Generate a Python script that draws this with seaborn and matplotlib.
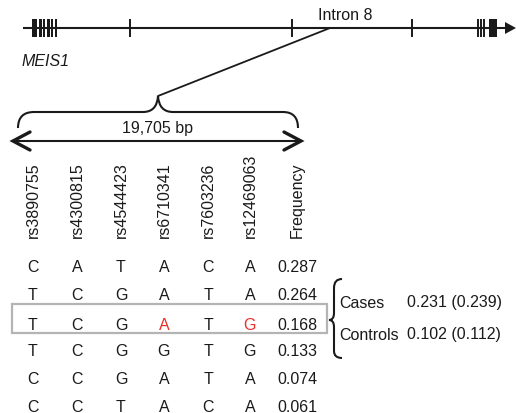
import matplotlib
matplotlib.use("Agg")
import matplotlib.pyplot as plt
from matplotlib.patches import Rectangle, PathPatch
from matplotlib.path import Path
import seaborn as sns

sns.set_style("white")
plt.rcParams['font.family'] = ['Liberation Sans', 'DejaVu Sans']

# ---- data ----
gene_name = "MEIS1"
intron_label = "Intron 8"
span_label = "19,705 bp"
# exon blocks (left, width) along the gene line
exon_left = [31.5, 39, 42.5, 46.5, 50.5, 54.5, 489]
exon_width = [5, 2.5, 2.5, 3.5, 2.5, 2.5, 8]
# thin exon ticks
tick_x = [130, 292, 412, 478, 481, 484]

snp_names = ["rs3890755", "rs4300815", "rs4544423", "rs6710341",
             "rs7603236", "rs12469063"]
freq_header = "Frequency"
haplotypes = [
    ["C", "A", "T", "A", "C", "A"],
    ["T", "C", "G", "A", "T", "A"],
    ["T", "C", "G", "A", "T", "G"],
    ["T", "C", "G", "G", "T", "G"],
    ["C", "C", "G", "A", "T", "A"],
    ["C", "C", "T", "A", "C", "A"],
]
frequencies = ["0.287", "0.264", "0.168", "0.133", "0.074", "0.061"]
highlight_row = 2
highlight_cols = [3, 5]
groups = ["Cases", "Controls"]
group_freqs = ["0.231 (0.239)", "0.102 (0.112)"]

# ---- layout ----
W, H = 516, 413
fig = plt.figure(figsize=(W / 100, H / 100), dpi=100)
ax = fig.add_axes([0, 0, 1, 1])
ax.set_xlim(0, W)
ax.set_ylim(H, 0)
ax.axis('off')

ink = "#1a1a1a"
red = "#e8302a"
fs = 11.5

# gene line
gy = 28
ax.plot([23, 506], [gy, gy], color=ink, lw=1.5, solid_capstyle='butt')
ax.fill([505, 516, 505], [gy - 6, gy, gy + 6], color=ink, lw=0)
for l, w in zip(exon_left, exon_width):
    ax.add_patch(Rectangle((l, gy - 9), w, 18, color=ink, lw=0))
for x in tick_x:
    ax.plot([x, x], [gy - 9, gy + 9], color=ink, lw=1.4, solid_capstyle='butt')

ax.text(345, 15, intron_label, ha='center', va='center', fontsize=fs, color=ink)
ax.text(22, 62, gene_name, ha='left', va='center', fontsize=fs, color=ink,
        style='italic')

# zoom line from intron to brace
ax.plot([330, 158], [gy, 96], color=ink, lw=1.3)

# top brace
verts = [(18, 128), (18, 112), (34, 112),
         (143, 112),
         (157, 112), (158, 96),
         (159, 112), (173, 112),
         (283, 112),
         (298, 112), (298, 128)]
codes = [Path.MOVETO, Path.CURVE3, Path.CURVE3,
         Path.LINETO,
         Path.CURVE3, Path.CURVE3,
         Path.CURVE3, Path.CURVE3,
         Path.LINETO,
         Path.CURVE3, Path.CURVE3]
ax.add_patch(PathPatch(Path(verts, codes), fill=False, ec=ink, lw=1.5))
ax.text(158, 128, span_label, ha='center', va='center', fontsize=fs, color=ink)

# double arrow
ay = 141
ax.plot([13, 301], [ay, ay], color=ink, lw=1.5)
ax.plot([30, 13, 30], [ay - 9, ay, ay + 9], color=ink, lw=2.4,
        solid_joinstyle='miter')
ax.plot([284, 301, 284], [ay - 9, ay, ay + 9], color=ink, lw=2.4,
        solid_joinstyle='miter')

# column headers
col_x = [33, 77, 121, 164, 208, 250, 297]
headers = snp_names + [freq_header]
for x, h in zip(col_x, headers):
    ax.text(x, 238, h, rotation=90, ha='center', va='bottom', fontsize=fs,
            color=ink)

# table rows
row_y = [268, 295.5, 325, 352, 379.5, 407]
for i, (hap, fq) in enumerate(zip(haplotypes, frequencies)):
    y = row_y[i]
    for j, allele in enumerate(hap):
        c = red if (i == highlight_row and j in highlight_cols) else ink
        ax.text(col_x[j], y, allele, ha='center', va='center', fontsize=fs,
                color=c)
    ax.text(col_x[6], y, fq, ha='center', va='center', fontsize=fs, color=ink)

# highlight box
ax.add_patch(Rectangle((12, 304), 315, 29, fill=False, ec="#b4b4b4", lw=1.6))

# right brace
verts = [(342, 279), (334, 279), (334, 288),
         (334, 313),
         (334, 320), (329, 320),
         (334, 320), (334, 327),
         (334, 351),
         (334, 358), (342, 358)]
ax.add_patch(PathPatch(Path(verts, codes), fill=False, ec=ink, lw=1.5))

ax.text(339, 303, groups[0], ha='left', va='center', fontsize=fs, color=ink)
ax.text(339, 335, groups[1], ha='left', va='center', fontsize=fs, color=ink)
ax.text(407, 303, group_freqs[0], ha='left', va='center', fontsize=fs, color=ink)
ax.text(407, 335, group_freqs[1], ha='left', va='center', fontsize=fs, color=ink)

fig.savefig("out.png", dpi=100, facecolor='white')
